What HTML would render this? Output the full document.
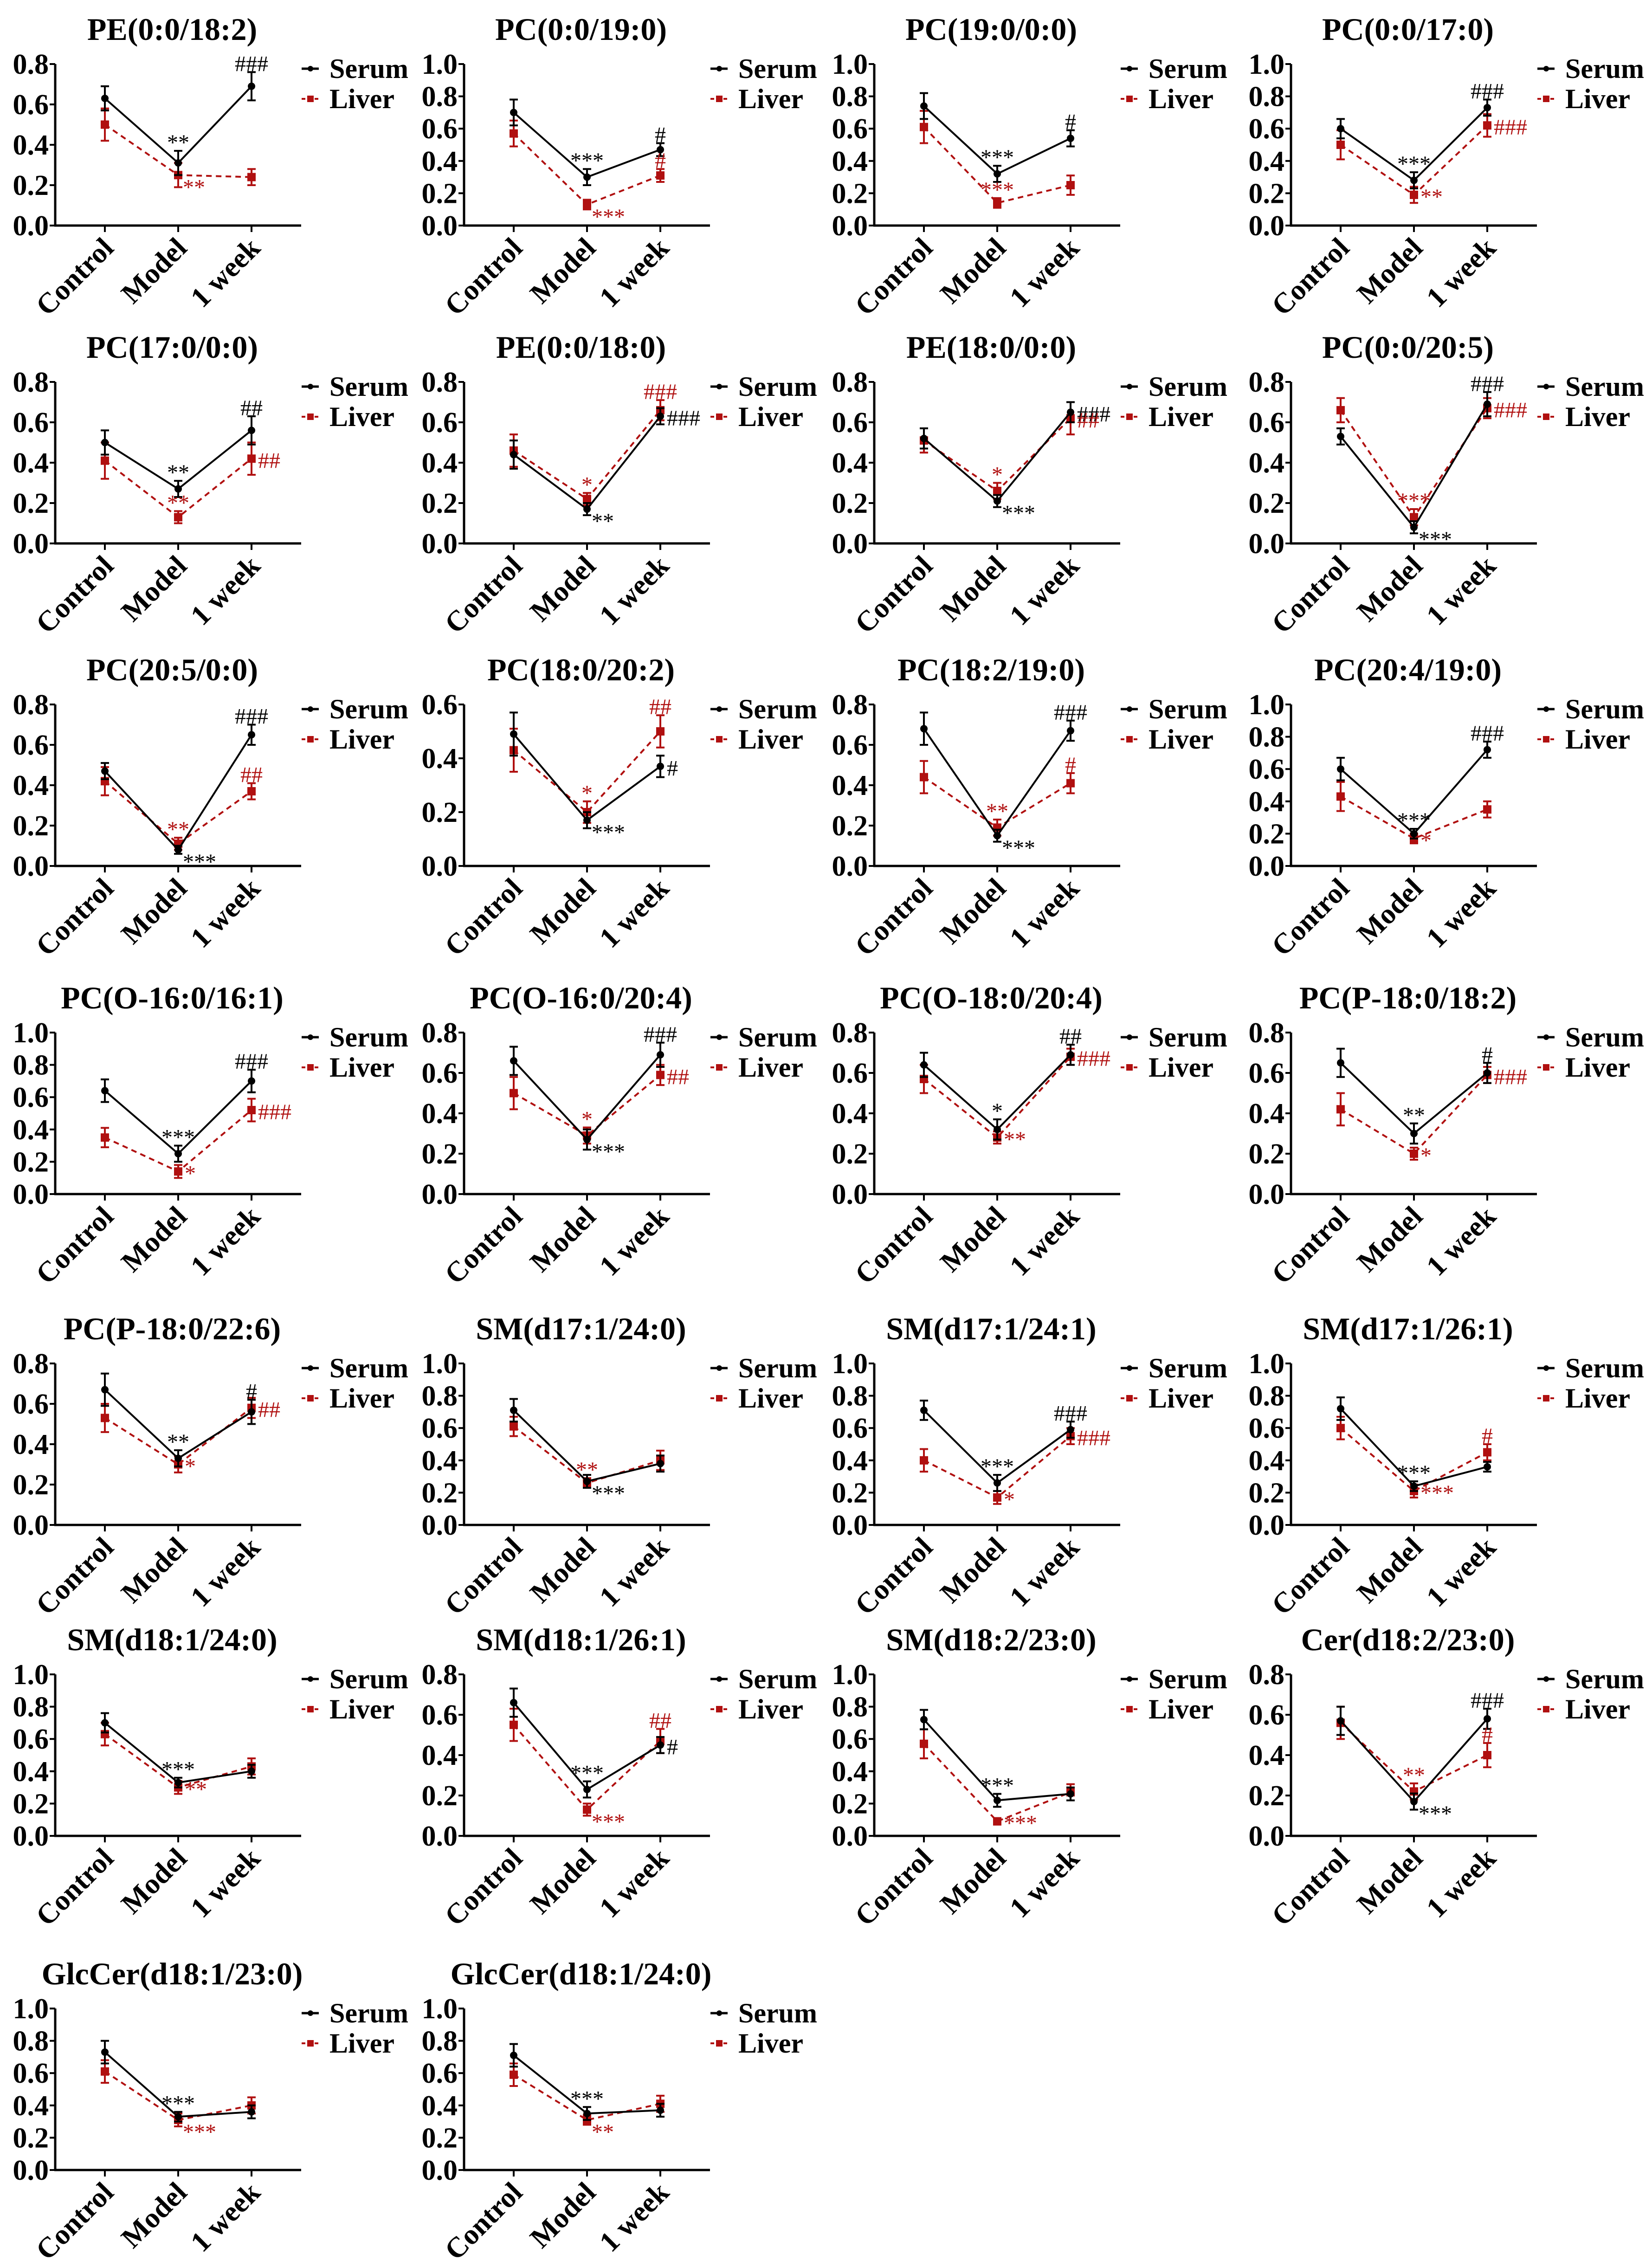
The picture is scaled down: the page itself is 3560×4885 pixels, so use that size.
<!DOCTYPE html>
<html><head><meta charset="utf-8"><style>
html,body{margin:0;padding:0;background:#fff}
svg{display:block}
text{font-family:"Liberation Serif",serif}
</style></head><body>
<svg id="chart" width="3560" height="4885" viewBox="0 0 3560 4885" xmlns="http://www.w3.org/2000/svg" font-family="Liberation Serif, serif"></svg>
<script>
const titles=["PE(0:0/18:2)","PC(0:0/19:0)","PC(19:0/0:0)","PC(0:0/17:0)","PC(17:0/0:0)","PE(0:0/18:0)","PE(18:0/0:0)","PC(0:0/20:5)","PC(20:5/0:0)","PC(18:0/20:2)","PC(18:2/19:0)","PC(20:4/19:0)","PC(O-16:0/16:1)","PC(O-16:0/20:4)","PC(O-18:0/20:4)","PC(P-18:0/18:2)","PC(P-18:0/22:6)","SM(d17:1/24:0)","SM(d17:1/24:1)","SM(d17:1/26:1)","SM(d18:1/24:0)","SM(d18:1/26:1)","SM(d18:2/23:0)","Cer(d18:2/23:0)","GlcCer(d18:1/23:0)","GlcCer(d18:1/24:0)"];
const categories=["Control","Model","1 week"];
const yMax=[0.8,1.0,1.0,1.0,0.8,0.8,0.8,0.8,0.8,0.6,0.8,1.0,1.0,0.8,0.8,0.8,0.8,1.0,1.0,1.0,1.0,0.8,1.0,0.8,1.0,1.0];
const serumMean=[[.63,.31,.69],[.70,.30,.47],[.74,.32,.54],[.60,.28,.73],[.50,.27,.56],[.44,.17,.63],[.52,.21,.65],[.53,.08,.69],[.47,.08,.65],[.49,.17,.37],[.68,.15,.67],[.60,.20,.72],[.64,.25,.70],[.66,.27,.69],[.64,.32,.69],[.65,.30,.60],[.67,.33,.56],[.71,.27,.38],[.71,.26,.59],[.72,.24,.36],[.70,.33,.40],[.66,.23,.45],[.72,.22,.26],[.57,.17,.58],[.73,.33,.36],[.71,.35,.37]];
const serumSD=[[.06,.06,.07],[.08,.05,.04],[.08,.05,.05],[.06,.05,.05],[.06,.04,.07],[.07,.03,.04],[.05,.03,.05],[.04,.03,.06],[.04,.02,.05],[.08,.03,.04],[.08,.03,.05],[.07,.03,.05],[.07,.05,.07],[.07,.05,.06],[.06,.05,.05],[.07,.05,.05],[.08,.04,.06],[.07,.04,.05],[.06,.05,.05],[.07,.03,.03],[.06,.03,.04],[.07,.04,.04],[.06,.04,.04],[.07,.04,.05],[.07,.03,.04],[.07,.04,.04]];
const liverMean=[[.50,.25,.24],[.57,.13,.31],[.61,.14,.25],[.50,.19,.62],[.41,.13,.42],[.46,.22,.66],[.51,.26,.62],[.66,.13,.67],[.42,.11,.37],[.43,.20,.50],[.44,.19,.41],[.43,.17,.35],[.35,.14,.52],[.50,.29,.59],[.57,.28,.68],[.42,.20,.59],[.53,.30,.58],[.61,.26,.40],[.40,.17,.55],[.60,.21,.45],[.63,.30,.43],[.55,.13,.47],[.57,.09,.27],[.56,.22,.40],[.61,.31,.40],[.59,.31,.41]];
const liverSD=[[.08,.06,.04],[.08,.03,.04],[.10,.03,.06],[.09,.05,.07],[.09,.03,.08],[.08,.03,.05],[.06,.04,.08],[.06,.04,.05],[.07,.03,.04],[.08,.04,.06],[.08,.04,.05],[.09,.03,.05],[.06,.04,.07],[.08,.04,.05],[.07,.03,.04],[.08,.03,.04],[.07,.04,.05],[.06,.03,.06],[.07,.04,.05],[.07,.04,.05],[.07,.04,.05],[.08,.03,.06],[.09,.02,.05],[.08,.04,.06],[.07,.04,.05],[.07,.03,.05]];
// annotations: [panel, series(s/l), categoryIndex, text, position(a=above, r=right, rb=right-below)]
const annotations=[[0,"s",1,"**","a"],[0,"s",2,"###","a"],[0,"l",1,"**","rb"],
[1,"s",1,"***","a"],[1,"s",2,"#","a"],[1,"l",1,"***","rb"],[1,"l",2,"#","a"],
[2,"s",1,"***","a"],[2,"s",2,"#","a"],[2,"l",1,"***","a"],
[3,"s",1,"***","a"],[3,"s",2,"###","a"],[3,"l",1,"**","r"],[3,"l",2,"###","r"],
[4,"s",1,"**","a"],[4,"s",2,"##","a"],[4,"l",1,"**","a"],[4,"l",2,"##","r"],
[5,"s",1,"**","rb"],[5,"s",2,"###","r"],[5,"l",1,"*","a"],[5,"l",2,"###","a"],
[6,"s",1,"***","rb"],[6,"s",2,"###","r"],[6,"l",1,"*","a"],[6,"l",2,"##","r"],
[7,"s",1,"***","rb"],[7,"s",2,"###","a"],[7,"l",1,"***","a"],[7,"l",2,"###","r"],
[8,"s",1,"***","rb"],[8,"s",2,"###","a"],[8,"l",1,"**","a"],[8,"l",2,"##","a"],
[9,"s",1,"***","rb"],[9,"s",2,"#","r"],[9,"l",1,"*","a"],[9,"l",2,"##","a"],
[10,"s",1,"***","rb"],[10,"s",2,"###","a"],[10,"l",1,"**","a"],[10,"l",2,"#","a"],
[11,"s",1,"***","a"],[11,"s",2,"###","a"],[11,"l",1,"*","r"],
[12,"s",1,"***","a"],[12,"s",2,"###","a"],[12,"l",1,"*","r"],[12,"l",2,"###","r"],
[13,"s",1,"***","rb"],[13,"s",2,"###","a"],[13,"l",1,"*","a"],[13,"l",2,"##","r"],
[14,"s",1,"*","a"],[14,"s",2,"##","a"],[14,"l",1,"**","r"],[14,"l",2,"###","r"],
[15,"s",1,"**","a"],[15,"s",2,"#","a"],[15,"l",1,"*","r"],[15,"l",2,"###","r"],
[16,"s",1,"**","a"],[16,"s",2,"#","a"],[16,"l",1,"*","r"],[16,"l",2,"##","r"],
[17,"s",1,"***","rb"],[17,"l",1,"**","a"],
[18,"s",1,"***","a"],[18,"s",2,"###","a"],[18,"l",1,"*","r"],[18,"l",2,"###","r"],
[19,"s",1,"***","a"],[19,"l",1,"***","r"],[19,"l",2,"#","a"],
[20,"s",1,"***","a"],[20,"l",1,"**","r"],
[21,"s",1,"***","a"],[21,"s",2,"#","r"],[21,"l",1,"***","rb"],[21,"l",2,"##","a"],
[22,"s",1,"***","a"],[22,"l",1,"***","r"],
[23,"s",1,"***","rb"],[23,"s",2,"###","a"],[23,"l",1,"**","a"],[23,"l",2,"#","a"],
[24,"s",1,"***","a"],[24,"l",1,"***","rb"],
[25,"s",1,"***","a"],[25,"l",1,"**","rb"]];

const colX=[119,1000,1884,2782];
const rowY=[486,1171,1866,2573,3286,3956,4676];
const AXH=348, AXW=530, CATX=[107,265,423];
const RED="#b01010";
const FF="Liberation Serif, serif";
const NS="http://www.w3.org/2000/svg";
const svg=document.getElementById('chart');
function mk(tag,attrs,parent){const e=document.createElementNS(NS,tag);for(const k in attrs)e.setAttribute(k,attrs[k]);if(tag==='text')e.setAttribute('font-family',FF);(parent||svg).appendChild(e);return e;}

titles.forEach((t,p)=>{
  const x0=colX[p%4], y0=rowY[Math.floor(p/4)], mx=yMax[p];
  const g=mk('g',{});
  
  
  const yS=v=>y0-v/mx*AXH;
  const xS=i=>x0+CATX[i];
  const ti=mk('text',{x:x0+252,y:y0-400,'text-anchor':'middle','font-size':68,'font-weight':'bold'},g);
  ti.textContent=t;
  
  
  const ya=mk('line',{x1:x0,y1:y0+2,x2:x0,y2:yS(mx),stroke:'#000','stroke-width':5},g);
  
  
  const xa=mk('line',{x1:x0-2,y1:y0,x2:x0+AXW,y2:y0,stroke:'#000','stroke-width':5},g);
  
  
  const nT=Math.round(mx/0.2);
  for(let k=0;k<=nT;k++){
    const v=k*0.2, y=yS(v);
    mk('line',{x1:x0-12,y1:y,x2:x0,y2:y,stroke:'#000','stroke-width':4},g);
    const tl=mk('text',{x:x0-14,y:y+21,'text-anchor':'end','font-size':62,'font-weight':'bold'},g);
    tl.textContent=v.toFixed(1);
    
    
  }
  categories.forEach((c,i)=>{
    mk('line',{x1:xS(i),y1:y0,x2:xS(i),y2:y0+14,stroke:'#000','stroke-width':4},g);
    const cl=mk('text',{x:xS(i)+22,y:y0+52,'text-anchor':'end','font-size':62,'font-weight':'bold',transform:`rotate(-45 ${xS(i)+22} ${y0+52})`},g);
    cl.textContent=c;
    
    
  });
  const series=[{m:liverMean[p],s:liverSD[p],col:RED,dash:'12 9',sq:true,name:'liver'},{m:serumMean[p],s:serumSD[p],col:'#000',dash:null,sq:false,name:'serum'}];
  series.forEach(S=>{
    const pts=S.m.map((v,i)=>xS(i)+','+yS(v)).join(' ');
    const pl=mk('polyline',{points:pts,fill:'none',stroke:S.col,'stroke-width':4},g);
    if(S.dash)pl.setAttribute('stroke-dasharray',S.dash);
    
    
    S.m.forEach((v,i)=>{
      const x=xS(i),yt=yS(v+S.s[i]),yb=yS(Math.max(0,v-S.s[i]));
      mk('line',{x1:x,y1:yt,x2:x,y2:yb,stroke:S.col,'stroke-width':4},g);
      mk('line',{x1:x-9,y1:yt,x2:x+9,y2:yt,stroke:S.col,'stroke-width':4},g);
      mk('line',{x1:x-9,y1:yb,x2:x+9,y2:yb,stroke:S.col,'stroke-width':4},g);
      let mkEl;
      if(S.sq) mkEl=mk('rect',{x:x-9,y:yS(v)-9,width:18,height:18,fill:S.col},g);
      else mkEl=mk('circle',{cx:x,cy:yS(v),r:8,fill:S.col},g);
      
      
    });
  });
  const lg=mk('g',{},g);
  
  
  mk('line',{x1:x0+531,y1:y0-338,x2:x0+568,y2:y0-338,stroke:'#000','stroke-width':5},lg);
  mk('circle',{cx:x0+550,cy:y0-338,r:6,fill:'#000'},lg);
  const ls=mk('text',{x:x0+591,y:y0-318,'font-size':60,'font-weight':'bold'},lg);
  ls.textContent='Serum';
  
  
  mk('line',{x1:x0+531,y1:y0-273,x2:x0+568,y2:y0-273,stroke:RED,'stroke-width':4,'stroke-dasharray':'8 6'},lg);
  mk('rect',{x:x0+543,y:y0-280,width:14,height:14,fill:RED},lg);
  const ll=mk('text',{x:x0+591,y:y0-253,'font-size':60,'font-weight':'bold'},lg);
  ll.textContent='Liver';
  
  
});

annotations.forEach(a=>{
  const [p,s,i,txt,pos]=a;
  const x0=colX[p%4], y0=rowY[Math.floor(p/4)], mx=yMax[p];
  const m=(s==='s'?serumMean:liverMean)[p][i], sd=(s==='s'?serumSD:liverSD)[p][i];
  const yS=v=>y0-v/mx*AXH;
  const x=x0+CATX[i];
  let attrs={'font-size':48,fill:s==='s'?'#000':RED};
  if(pos==='a'){attrs.x=x;attrs.y=yS(m+sd)-2;attrs['text-anchor']='middle';}
  else if(pos==='r'){attrs.x=x+14;attrs.y=yS(m)+20;}
  else {attrs.x=x+10;attrs.y=yS(m)+42;}
  const t=mk('text',attrs);
  t.textContent=txt;
  
  
});
</script>
</body></html>
